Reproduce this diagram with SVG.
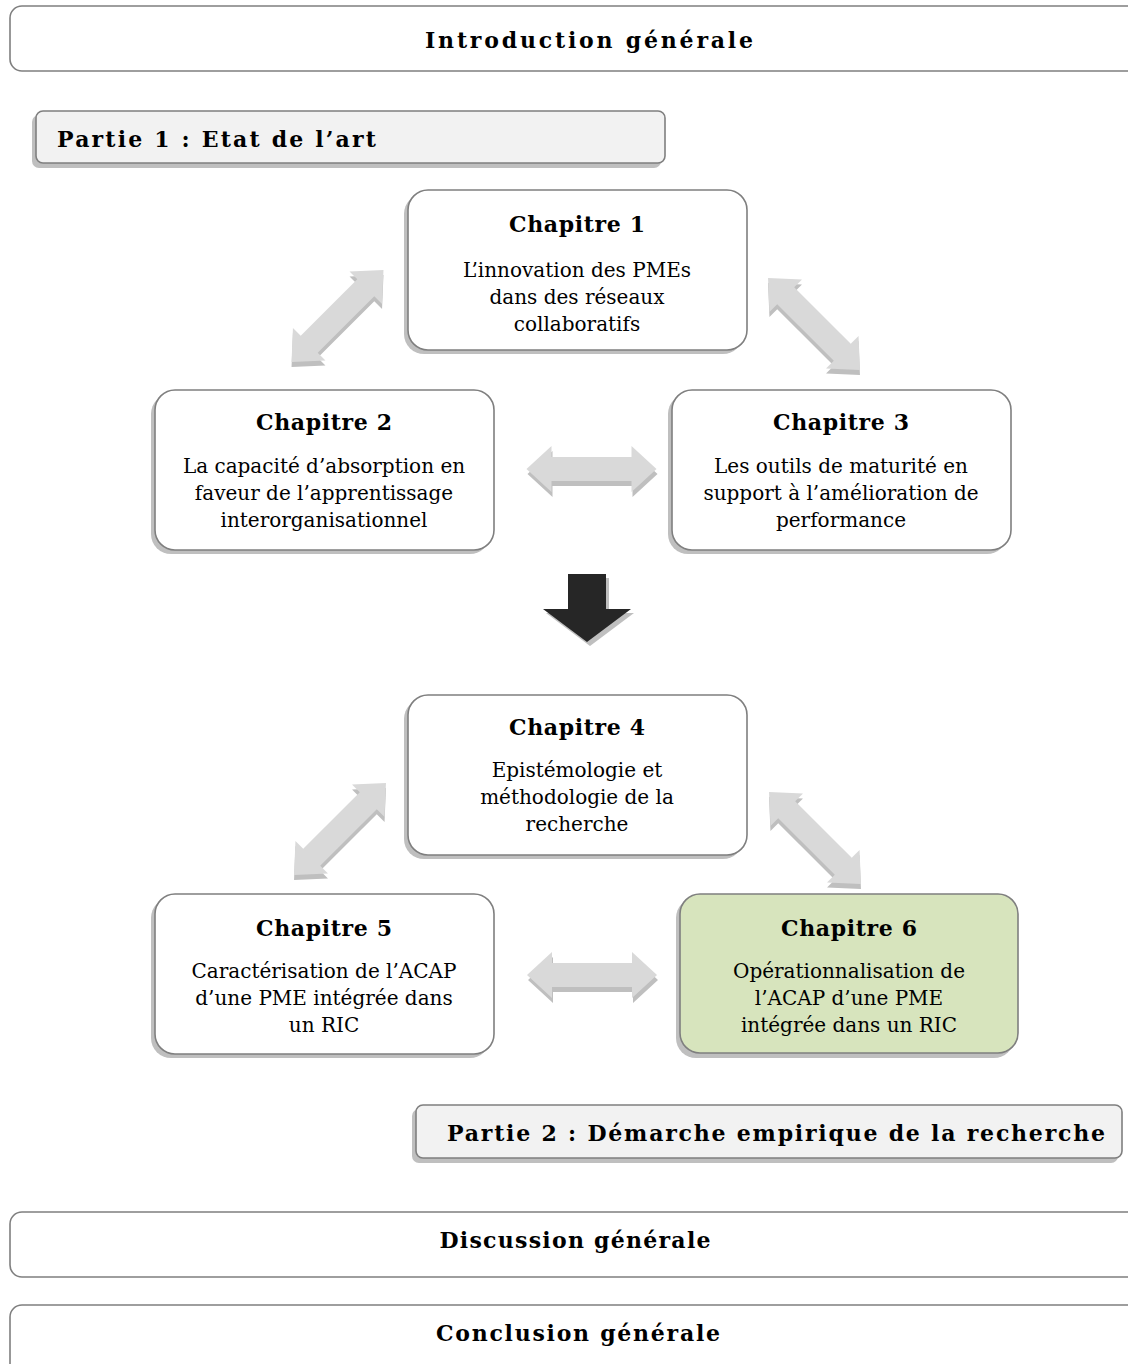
<svg xmlns="http://www.w3.org/2000/svg" width="1128" height="1364" viewBox="0 0 1128 1364">
<style>
  .frame{fill:#ffffff;stroke:#7f7f7f;stroke-width:1.6}
  .part{fill:#f2f2f2;stroke:#7f7f7f;stroke-width:1.6}
  .chap{fill:#ffffff;stroke:#7f7f7f;stroke-width:1.6}
  .green{fill:#d7e4bd;stroke:#7f7f7f;stroke-width:1.6}
  .shadow{fill:#bfbfbf;stroke:none}
  .t{font-family:"DejaVu Serif","Liberation Serif",serif;fill:#000;text-anchor:middle}
  .title{font-size:22px;font-weight:bold}
  .body{font-size:20px}
  .arr{fill:#d9d9d9}
  .arrs{fill:#bfbfbf}
</style>
<defs>
  <path id="dbl" d="M-65,0 L-40,-23 L-40,-12 L40,-12 L40,-23 L65,0 L40,23 L40,12 L-40,12 L-40,23 Z"/>
</defs>

<g id="introduction">
  <rect class="frame" x="10" y="6" width="1140" height="65" rx="12"/>
  <text class="t title" x="589" y="48" textLength="328">Introduction générale</text>
</g>

<g id="partie1">
  <rect class="shadow" x="32" y="115" width="629" height="53" rx="7"/>
  <rect class="part" x="36" y="111" width="629" height="52" rx="7"/>
  <text class="t title" x="57" y="147" style="text-anchor:start" textLength="319">Partie 1 : Etat de l’art</text>
</g>

<g id="chapitre1">
  <rect class="shadow" x="404" y="194" width="339" height="160" rx="20"/>
  <rect class="chap" x="408" y="190" width="339" height="160" rx="20"/>
  <text class="t title" x="577" y="232" textLength="136">Chapitre 1</text>
  <text class="t body" x="577" y="277">L’innovation des PMEs</text>
  <text class="t body" x="577" y="304">dans des réseaux</text>
  <text class="t body" x="577" y="331">collaboratifs</text>
</g>

<g id="chapitre2">
  <rect class="shadow" x="151" y="394" width="339" height="160" rx="20"/>
  <rect class="chap" x="155" y="390" width="339" height="160" rx="20"/>
  <text class="t title" x="324" y="430" textLength="136">Chapitre 2</text>
  <text class="t body" x="324" y="473">La capacité d’absorption en</text>
  <text class="t body" x="324" y="500">faveur de l’apprentissage</text>
  <text class="t body" x="324" y="527">interorganisationnel</text>
</g>

<g id="chapitre3">
  <rect class="shadow" x="668" y="394" width="339" height="160" rx="20"/>
  <rect class="chap" x="672" y="390" width="339" height="160" rx="20"/>
  <text class="t title" x="841" y="430" textLength="136">Chapitre 3</text>
  <text class="t body" x="841" y="473">Les outils de maturité en</text>
  <text class="t body" x="841" y="500">support à l’amélioration de</text>
  <text class="t body" x="841" y="527">performance</text>
</g>

<g id="chapitre4">
  <rect class="shadow" x="404" y="699" width="339" height="160" rx="20"/>
  <rect class="chap" x="408" y="695" width="339" height="160" rx="20"/>
  <text class="t title" x="577" y="735" textLength="136">Chapitre 4</text>
  <text class="t body" x="577" y="777">Epistémologie et</text>
  <text class="t body" x="577" y="804">méthodologie de la</text>
  <text class="t body" x="577" y="831">recherche</text>
</g>

<g id="chapitre5">
  <rect class="shadow" x="151" y="898" width="339" height="160" rx="20"/>
  <rect class="chap" x="155" y="894" width="339" height="160" rx="20"/>
  <text class="t title" x="324" y="936" textLength="136">Chapitre 5</text>
  <text class="t body" x="324" y="978">Caractérisation de l’ACAP</text>
  <text class="t body" x="324" y="1005">d’une PME intégrée dans</text>
  <text class="t body" x="324" y="1032">un RIC</text>
</g>

<g id="chapitre6">
  <rect class="shadow" x="676" y="898" width="338" height="160" rx="20"/>
  <rect class="green" x="680" y="894" width="338" height="159" rx="20"/>
  <text class="t title" x="849" y="936" textLength="136">Chapitre 6</text>
  <text class="t body" x="849" y="978">Opérationnalisation de</text>
  <text class="t body" x="849" y="1005">l’ACAP d’une PME</text>
  <text class="t body" x="849" y="1032">intégrée dans un RIC</text>
</g>

<g id="partie2">
  <rect class="shadow" x="412" y="1109" width="706" height="54" rx="7"/>
  <rect class="part" x="416" y="1105" width="706" height="53" rx="7"/>
  <text class="t title" x="776" y="1141" textLength="658">Partie 2 : Démarche empirique de la recherche</text>
</g>

<g id="discussion">
  <rect class="frame" x="10" y="1212" width="1140" height="65" rx="12"/>
  <text class="t title" x="575" y="1248" textLength="271">Discussion générale</text>
</g>

<g id="conclusion">
  <rect class="frame" x="10" y="1305" width="1140" height="80" rx="12"/>
  <text class="t title" x="578" y="1341" textLength="284">Conclusion générale</text>
</g>

<g id="connectors">
  <g transform="translate(337.5,316) rotate(-45)">
    <use href="#dbl" class="arrs" transform="rotate(45) translate(0,5) rotate(-45)"/>
    <use href="#dbl" class="arr"/>
  </g>
  <g transform="translate(814,324) rotate(45)">
    <use href="#dbl" class="arrs" transform="rotate(-45) translate(0,5) rotate(45)"/>
    <use href="#dbl" class="arr"/>
  </g>
  <g transform="translate(591.5,469)">
    <use href="#dbl" class="arrs" transform="translate(1,5)"/>
    <use href="#dbl" class="arr"/>
  </g>
  <g transform="translate(340,829) rotate(-45)">
    <use href="#dbl" class="arrs" transform="rotate(45) translate(0,5) rotate(-45)"/>
    <use href="#dbl" class="arr"/>
  </g>
  <g transform="translate(815,838) rotate(45)">
    <use href="#dbl" class="arrs" transform="rotate(-45) translate(0,5) rotate(45)"/>
    <use href="#dbl" class="arr"/>
  </g>
  <g transform="translate(592,975)">
    <use href="#dbl" class="arrs" transform="translate(1,5)"/>
    <use href="#dbl" class="arr"/>
  </g>
  <g id="down-arrow">
    <path d="M571,578 L609,578 L609,613 L634,613 L590,646 L546,613 L571,613 Z" fill="#bfbfbf"/>
    <path d="M568,574 L606,574 L606,609 L631,609 L587,642 L543,609 L568,609 Z" fill="#262626"/>
  </g>
</g>
</svg>
